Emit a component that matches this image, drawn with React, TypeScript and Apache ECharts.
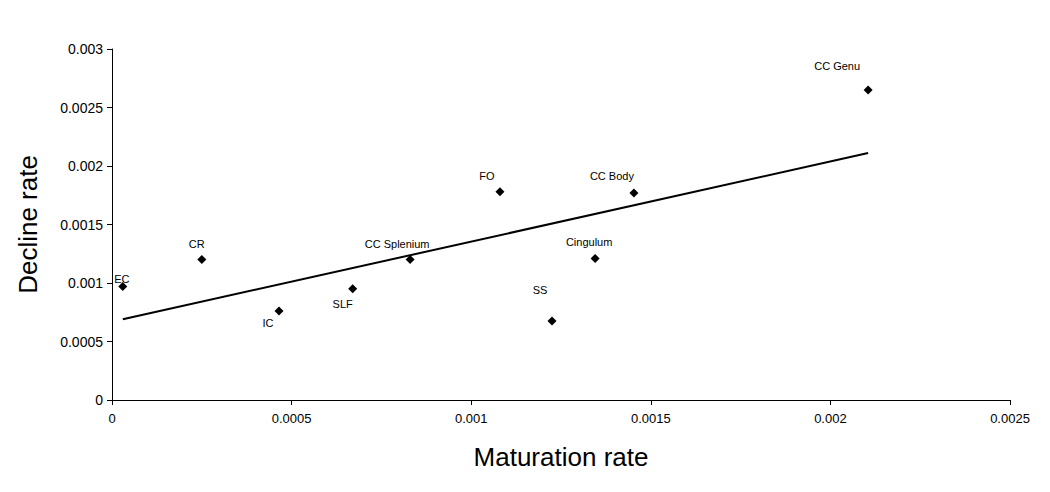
import React, { useEffect, useRef } from "react";
import * as echarts from "echarts";

const regions = ["EC", "CR", "IC", "SLF", "CC Splenium", "FO", "SS", "Cingulum", "CC Body", "CC Genu"];
const maturationRate = [0.00003, 0.00025, 0.000465, 0.00067, 0.00083, 0.00108, 0.001225, 0.001345, 0.001453, 0.002105];
const declineRate = [0.00097, 0.0012, 0.00076, 0.00095, 0.0012, 0.00178, 0.000675, 0.00121, 0.00177, 0.00265];
const labelOffsets: [number, number][] = [
  [-1, -8], [-5, -16], [-11, 12], [-10, 15], [-13, -16], [-13, -16], [-12, -31], [-6, -16], [-22, -17], [-31, -24],
];

function regression(xs: number[], ys: number[]) {
  const n = xs.length;
  const mx = xs.reduce((a, b) => a + b, 0) / n;
  const my = ys.reduce((a, b) => a + b, 0) / n;
  let sxy = 0, sxx = 0;
  for (let i = 0; i < n; i++) {
    sxy += (xs[i] - mx) * (ys[i] - my);
    sxx += (xs[i] - mx) * (xs[i] - mx);
  }
  const slope = sxy / sxx;
  return { slope, intercept: my - slope * mx };
}

export default function App() {
  const ref = useRef<HTMLDivElement>(null);
  useEffect(() => {
    document.body.style.margin = "0";
    const chart = echarts.init(ref.current!, null, { renderer: "svg" });
    const { slope, intercept } = regression(maturationRate, declineRate);
    const xMin = Math.min(...maturationRate);
    const xMax = Math.max(...maturationRate);
    const fmt = (v: number) => parseFloat(v.toFixed(4)).toString();
    const font = "Arial, 'Liberation Sans', sans-serif";
    chart.setOption({
      animation: false,
      backgroundColor: "#ffffff",
      grid: { left: 112, right: 40, top: 49, bottom: 92 },
      xAxis: {
        type: "value",
        min: 0,
        max: 0.0025,
        interval: 0.0005,
        name: "Maturation rate",
        nameLocation: "middle",
        nameGap: 44,
        nameTextStyle: { fontSize: 26, color: "#000", fontFamily: font },
        axisLine: { lineStyle: { color: "#000", width: 1 } },
        axisTick: { show: true, length: 5, lineStyle: { color: "#000" } },
        axisLabel: { color: "#000", fontSize: 13, fontFamily: font, margin: 12, formatter: fmt },
        splitLine: { show: false },
      },
      yAxis: {
        type: "value",
        min: 0,
        max: 0.003,
        interval: 0.0005,
        name: "Decline rate",
        nameLocation: "middle",
        nameGap: 71,
        nameTextStyle: { fontSize: 26, color: "#000", fontFamily: font },
        axisLine: { show: true, lineStyle: { color: "#000", width: 1 } },
        axisTick: { show: true, length: 5, lineStyle: { color: "#000" } },
        axisLabel: { color: "#000", fontSize: 14, fontFamily: font, margin: 9, formatter: fmt },
        splitLine: { show: false },
      },
      series: [
        {
          type: "line",
          data: [
            [xMin, intercept + slope * xMin],
            [xMax, intercept + slope * xMax],
          ],
          showSymbol: false,
          symbol: "none",
          lineStyle: { color: "#000", width: 2 },
          silent: true,
          z: 1,
        },
        {
          type: "scatter",
          symbol: "diamond",
          symbolSize: 9,
          itemStyle: { color: "#000", opacity: 1 },
          z: 2,
          data: regions.map((name, i) => ({
            name,
            value: [maturationRate[i], declineRate[i]],
            label: {
              show: true,
              position: "inside",
              offset: labelOffsets[i],
              formatter: name,
              color: "#000",
              fontSize: 11,
              fontFamily: font,
            },
          })),
        },
      ],
    });
    return () => chart.dispose();
  }, []);
  return <div ref={ref} style={{ width: 1050, height: 492, position: "absolute", left: 0, top: 0 }} />;
}
